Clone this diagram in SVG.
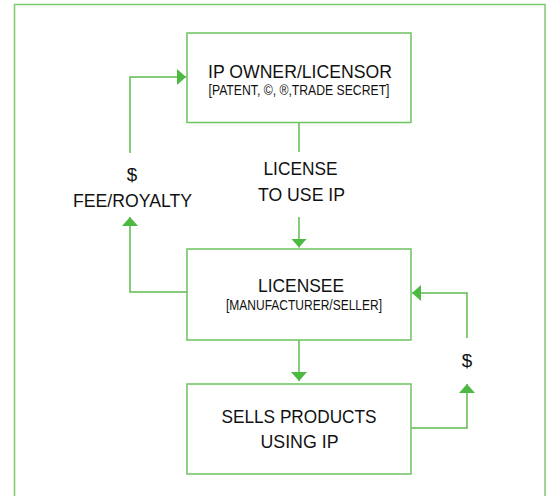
<svg xmlns="http://www.w3.org/2000/svg" width="547" height="496" viewBox="0 0 547 496">
  <style>
    .frame { fill: none; stroke: #7ccc6e; stroke-width: 1.5; }
    .box { fill: #ffffff; stroke: #6cc45e; stroke-width: 1.5; }
    .link { fill: none; stroke: #5dbb4f; stroke-width: 1.5; }
    .t { font-family: "Liberation Sans", Arial, sans-serif; fill: #111111; text-anchor: middle; }
    .big { font-size: 18.8px; }
    .small { font-size: 14px; }
  </style>
  <defs>
    <marker id="head" viewBox="0 0 10 10" refX="10" refY="5" markerWidth="9" markerHeight="16" markerUnits="userSpaceOnUse" orient="auto" preserveAspectRatio="none">
      <path d="M0,0 L10,5 L0,10 z" fill="#4db842"/>
    </marker>
  </defs>

  <rect x="0" y="0" width="547" height="496" fill="#ffffff"/>
  <!-- outer frame, open at the bottom edge of the canvas -->
  <rect class="frame" x="14.5" y="4.5" width="530.5" height="510"/>

  <g id="connectors">
    <!-- fee/royalty path back to the licensor -->
    <path class="link" d="M130,153 V77 H186" marker-end="url(#head)"/>
    <path class="link" d="M187,292 H130 V217" marker-end="url(#head)"/>
    <!-- licence granted to the licensee -->
    <path class="link" d="M299,123 V152"/>
    <path class="link" d="M299,217 V247.5" marker-end="url(#head)"/>
    <!-- licensee to sales -->
    <path class="link" d="M299,340 V381" marker-end="url(#head)"/>
    <!-- revenue back to the licensee -->
    <path class="link" d="M411,428 H467 V384" marker-end="url(#head)"/>
    <path class="link" d="M467,338 V293 H412" marker-end="url(#head)"/>
  </g>

  <g id="licensor">
    <rect class="box" x="187" y="33" width="224" height="89.5"/>
    <text class="t big" x="300" y="78" textLength="184" lengthAdjust="spacingAndGlyphs">IP OWNER/LICENSOR</text>
    <text class="t small" x="299" y="95" textLength="181" lengthAdjust="spacingAndGlyphs">[PATENT, ©, ®,TRADE SECRET]</text>
  </g>

  <g id="licensee">
    <rect class="box" x="187" y="249" width="224" height="91"/>
    <text class="t big" x="301" y="292" textLength="86" lengthAdjust="spacingAndGlyphs">LICENSEE</text>
    <text class="t small" x="304" y="309.5" textLength="156" lengthAdjust="spacingAndGlyphs">[MANUFACTURER/SELLER]</text>
  </g>

  <g id="sales">
    <rect class="box" x="187" y="384" width="224" height="90"/>
    <text class="t big" x="299" y="422.5" textLength="155" lengthAdjust="spacingAndGlyphs">SELLS PRODUCTS</text>
    <text class="t big" x="299.5" y="448" textLength="78" lengthAdjust="spacingAndGlyphs">USING IP</text>
  </g>

  <g id="label-fee">
    <text class="t big" x="132" y="181">$</text>
    <text class="t big" x="132.5" y="207" textLength="119" lengthAdjust="spacingAndGlyphs">FEE/ROYALTY</text>
  </g>

  <g id="label-license">
    <text class="t big" x="300.5" y="175" textLength="74" lengthAdjust="spacingAndGlyphs">LICENSE</text>
    <text class="t big" x="301.5" y="201" textLength="87" lengthAdjust="spacingAndGlyphs">TO USE IP</text>
  </g>

  <g id="label-revenue">
    <text class="t big" x="467" y="367">$</text>
  </g>
</svg>
